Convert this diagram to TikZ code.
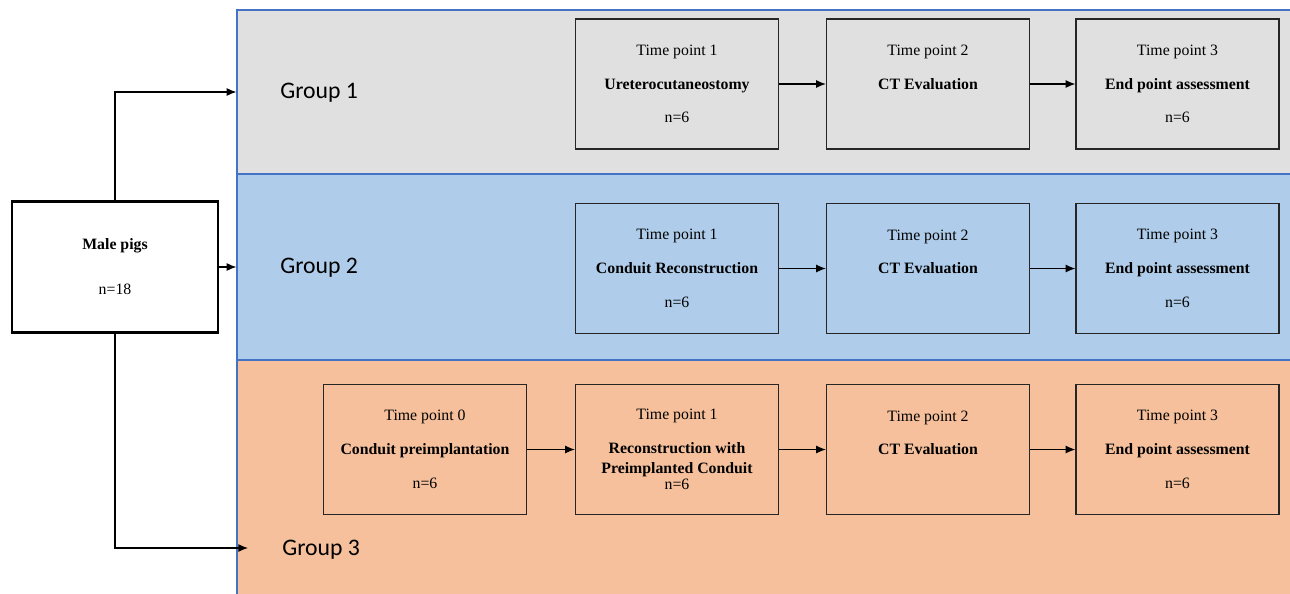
\documentclass[tikz,border=0pt]{standalone}
\usepackage{fontspec}
\setmainfont{Liberation Serif}
\newfontfamily\grpfont{Carlito}
\usepackage{tikz}
\usetikzlibrary{arrows.meta}
\definecolor{bandgray}{HTML}{E0E0E0}
\definecolor{bandblue}{HTML}{AFCDEA}
\definecolor{bandorange}{HTML}{F5C09B}
\definecolor{bandline}{HTML}{4472C4}

\tikzset{
  band/.style={draw=bandline,line width=0.8pt,minimum width=21.5cm,inner sep=0pt},
  stagebox/.style={draw=black!85,line width=0.8pt,minimum width=4.06cm,minimum height=2.6cm,
    inner sep=0pt,align=center,font=\fontsize{9}{19.2}\selectfont},
  startbox/.style={draw,line width=1.5pt,minimum width=4.12cm,minimum height=2.62cm,
    align=center,font=\fontsize{9}{25.6}\selectfont},
  grplabel/.style={anchor=west,inner sep=0pt,font=\grpfont\fontsize{13.5}{16}\selectfont},
  flow/.style={-{Latex[length=5.5pt,width=4.5pt]},line width=0.6pt}
}

\begin{document}
\begin{tikzpicture}[x=0.02cm,y=-0.02cm]
  \useasboundingbox (0,0) rectangle (1290,593);
  % group bands
  \node[band,fill=bandgray,minimum height=3.28cm] (band1) at (774.5,92) {};
  \node[band,fill=bandblue,minimum height=3.72cm] (band2) at (774.5,267) {};
  \node[band,fill=bandorange,minimum height=4.86cm] (band3) at (774.5,481.5) {};

  \node[grplabel] (grp1) at (280,93) {Group 1};
  \node[grplabel] (grp2) at (280,268) {Group 2};
  \node[grplabel] (grp3) at (282,550) {Group 3};

  % animals
  \node[startbox] (start) at (115,267) {\textbf{Male pigs}\\n=18};
  \coordinate (g3in) at (248,548);
  \draw[flow] (start.north) |- (band1.west);
  \draw[flow] (start.east) -- (band2.west);
  \draw[flow] (start.south) |- (g3in);

  % group 1
  \node[stagebox] (g1t1) at (677,84) {Time point 1\\\textbf{Ureterocutaneostomy}\\n=6};
  \node[stagebox] (g1t2) at (928,84) {Time point 2\\\textbf{CT Evaluation}\\\mbox{}};
  \node[stagebox] (g1t3) at (1177.5,84) {Time point 3\\\textbf{End point assessment}\\n=6};
  \draw[flow] (g1t1.east) -- (g1t2.west);
  \draw[flow] (g1t2.east) -- (g1t3.west);

  % group 2
  \node[stagebox] (g2t1) at (677,268.5) {Time point 1\\\textbf{Conduit Reconstruction}\\n=6};
  \node[stagebox] (g2t2) at (928,268.5) {Time point 2\\\textbf{CT Evaluation}\\\mbox{}};
  \node[stagebox] (g2t3) at (1177.5,268.5) {Time point 3\\\textbf{End point assessment}\\n=6};
  \draw[flow] (g2t1.east) -- (g2t2.west);
  \draw[flow] (g2t2.east) -- (g2t3.west);

  % group 3
  \node[stagebox] (g3t0) at (425,449.5) {Time point 0\\\textbf{Conduit preimplantation}\\n=6};
  \node[stagebox] (g3t1) at (677,449.5) {Time point 1\\\textbf{Reconstruction with}\\[-8pt]\textbf{Preimplanted Conduit}\\[-10pt]n=6};
  \node[stagebox] (g3t2) at (928,449.5) {Time point 2\\\textbf{CT Evaluation}\\\mbox{}};
  \node[stagebox] (g3t3) at (1177.5,449.5) {Time point 3\\\textbf{End point assessment}\\n=6};
  \draw[flow] (g3t0.east) -- (g3t1.west);
  \draw[flow] (g3t1.east) -- (g3t2.west);
  \draw[flow] (g3t2.east) -- (g3t3.west);
\end{tikzpicture}
\end{document}
